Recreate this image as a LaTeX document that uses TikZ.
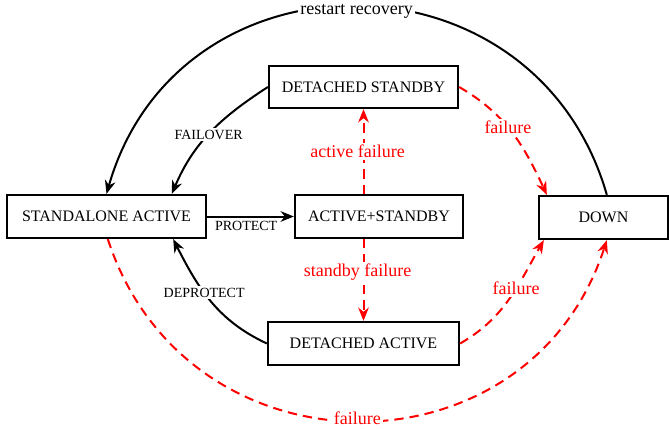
\documentclass[tikz,border=0pt]{standalone}
\usepackage{fontspec}
\setmainfont{Liberation Serif}
\usetikzlibrary{arrows.meta}
\begin{document}
\begin{tikzpicture}[x=0.75pt,y=0.75pt,
  state/.style={draw, line width=1.7pt, fill=white, font=\fontsize{12}{14}\selectfont, inner sep=0pt, minimum height=32.25pt},
  edge/.style={line width=1.5pt, -{Stealth[length=10pt,width=8pt]}},
  redge/.style={edge, red, dash pattern=on 7pt off 4.5pt},
  elabel/.style={fill=white, inner sep=1.5pt, font=\fontsize{10.5}{12}\selectfont},
  tlabel/.style={fill=white, inner sep=1.5pt, font=\fontsize{13.5}{15}\selectfont},
  rlabel/.style={tlabel, text=red}]
\useasboundingbox (0,0) rectangle (669,-429);
\node[state, minimum width=149.25pt] (sa) at (106.5,-216.5) {STANDALONE ACTIVE};
\node[state, minimum width=126pt] (as) at (379,-216.5) {ACTIVE+STANDBY};
\node[state, minimum width=141.75pt, minimum height=31.5pt] (ds) at (363.5,-87) {DETACHED STANDBY};
\node[state, minimum width=96.75pt] (dn) at (603.5,-217.5) {DOWN};
\node[state, minimum width=143.25pt] (da) at (363.5,-343.5) {DETACHED ACTIVE};
% black transitions
\draw[edge] ([xshift=2.5pt]dn.north) to[out=106, in=74, looseness=1.33]
  node[tlabel, pos=0.5, yshift=-3.5pt] {restart recovery} (sa.north);
\draw[edge] (ds.west) to[out=213, in=67]
  node[elabel, pos=0.52] {FAILOVER} ([xshift=49pt]sa.north);
\draw[edge] (da.west) to[out=155, in=297]
  node[elabel, pos=0.58] {DEPROTECT} ([xshift=50pt]sa.south);
\draw[edge] (sa.east) -- node[elabel, below, pos=0.45, yshift=-1pt] {PROTECT} (as.west);
% red failure transitions
\draw[redge] (as.north -| ds.south) -- node[rlabel, pos=0.5, xshift=-4.5pt] {active failure} (ds.south);
\draw[redge] (as.south -| da.north) -- node[rlabel, pos=0.4, xshift=-4.5pt] {standby failure} (da.north);
\draw[redge] (ds.east) to[out=-30, in=115]
  node[rlabel, pos=0.45] {failure} ([xshift=6.75pt]dn.north west);
\draw[redge] (da.east) to[out=30, in=240]
  node[rlabel, pos=0.6] {failure} ([xshift=4.5pt]dn.south west);
\draw[redge] ([xshift=1pt]sa.south) to[out=-72, in=252, looseness=1.3]
  node[rlabel, pos=0.5, yshift=2pt] {failure} ([xshift=2.5pt]dn.south);
\end{tikzpicture}
\end{document}
